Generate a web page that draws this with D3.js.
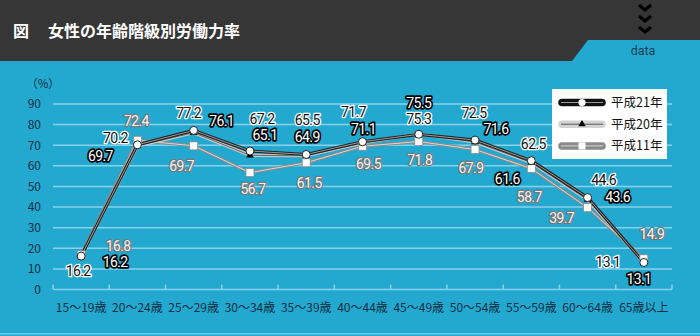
<!DOCTYPE html>
<html><head><meta charset="utf-8">
<script src="https://cdn.jsdelivr.net/npm/d3@7"></script>
<style>html,body{margin:0;padding:0;background:#363636;}svg{display:block;}</style>
</head><body>
<svg id="c" width="700" height="336"></svg>
<script>
const categories = ["15～19歳","20～24歳","25～29歳","30～34歳","35～39歳","40～44歳","45～49歳","50～54歳","55～59歳","60～64歳","65歳以上"];
const seriesNames = ["平成21年","平成20年","平成11年"];
const h21 = [16.2,70.2,77.2,67.2,65.5,71.7,75.3,72.5,62.5,44.6,13.1];
const h20 = [16.2,69.7,76.1,65.1,64.9,71.1,75.5,71.6,61.6,43.6,13.1];
const h11 = [16.8,72.4,69.7,56.7,61.5,69.5,71.8,67.9,58.7,39.7,14.9];
const yTicks = [0,10,20,30,40,50,60,70,80,90];

// label placement offsets (layout only)
const off21 = [[-3,15],[-22,-7],[-5,-17],[12,-32],[1,-35],[-9,-30],[0,-15],[-1,-27],[2,-17],[16,-18],[-36,-1]];
const off20 = [[34,6],[-37,10],[28,-12],[15,-20],[1,-19],[1,-14],[0,-31],[21,-13],[-24,16],[30,-3],[-5,16]];
const off11 = [[37,-9],[-1,-19],[-12,20],[3,16],[3,20],[6,18],[1,18],[-4,18],[-2,28],[-26,10],[8,-25]];

const svg = d3.select("#c");
const FONT = "'Noto Sans CJK JP','Noto Sans',sans-serif";

// header
svg.append("rect").attr("x",0).attr("y",0).attr("width",700).attr("height",336).attr("fill","#363636");
svg.append("rect").attr("x",0).attr("y",61).attr("width",700).attr("height",275).attr("fill","#23a9d0");
svg.append("rect").attr("x",0).attr("y",333).attr("width",700).attr("height",1.5).attr("fill","#6cc6e4");
svg.append("polygon").attr("points","572,61 588,40 700,40 700,61").attr("fill","#23a9d0");
svg.append("text").attr("x",643).attr("y",55).attr("text-anchor","middle")
  .attr("font-family","Roboto,'Noto Sans',sans-serif").attr("font-size",12.5).attr("fill","#163f55").text("data");
[0,11,22].forEach(o=>{
  svg.append("path").attr("d",`M639,${5+o} L645,${10+o} L651,${5+o}`).attr("fill","none")
    .attr("stroke","#000").attr("stroke-width",3.2).attr("stroke-linecap","butt").attr("stroke-linejoin","miter");
});
svg.append("text").attr("x",13).attr("y",37).attr("font-family",FONT).attr("font-weight","bold")
  .attr("font-size",16).attr("fill","#fff").text("図");
svg.append("text").attr("x",48).attr("y",37).attr("font-family",FONT).attr("font-weight","bold")
  .attr("font-size",16).attr("fill","#fff").text("女性の年齢階級別労働力率");

// scales
const x = d3.scaleBand().domain(categories).range([53,672]).padding(0);
const y = d3.scaleLinear().domain([0,90]).range([289.5,104]);
const cx = c => x(c) + x.bandwidth()/2;

// grid
svg.append("g").selectAll("line").data(yTicks.filter(d=>d>0)).join("line")
  .attr("x1",53).attr("x2",672).attr("y1",d=>y(d)).attr("y2",d=>y(d))
  .attr("stroke","#8ad2ea").attr("stroke-width",1.5);

// x axis
const xAxis = d3.axisBottom(x).tickSize(0).tickPadding(0);
const gx = svg.append("g").attr("transform",`translate(0,${y(0)})`).call(xAxis);
gx.select(".domain").remove();
gx.selectAll("text").attr("font-family",FONT).attr("font-size",12).attr("fill","#0e2f44").attr("dy","1.9em");
svg.append("line").attr("x1",53).attr("x2",672).attr("y1",y(0)).attr("y2",y(0)).attr("stroke","#8ad2ea").attr("stroke-width",1.5);
const bounds = categories.map(c=>x(c)).concat([x(categories[categories.length-1])+x.bandwidth()]);
svg.append("g").selectAll("line").data(bounds).join("line")
  .attr("x1",d=>d).attr("x2",d=>d).attr("y1",y(0)).attr("y2",y(0)-5)
  .attr("stroke","#8ad2ea").attr("stroke-width",1.5);

// y axis labels
const yAxis = d3.axisLeft(y).tickValues(yTicks).tickSize(0).tickPadding(12);
const gy = svg.append("g").attr("transform","translate(53,0)").call(yAxis);
gy.select(".domain").remove();
gy.selectAll("text").attr("font-family",FONT).attr("font-size",12).attr("fill","#0e2f44");
svg.append("text").attr("x",43).attr("y",88).attr("text-anchor","middle").attr("font-family",FONT)
  .attr("font-size",11.5).attr("fill","#0e2f44").text("（%）");

// lines
const line = d3.line().x((d,i)=>cx(categories[i])).y(d=>y(d));
function drawLine(data, outer, inner, ow){
  svg.append("path").datum(data).attr("d",line).attr("fill","none").attr("stroke",outer).attr("stroke-width",ow).attr("stroke-linejoin","round");
  svg.append("path").datum(data).attr("d",line).attr("fill","none").attr("stroke",inner).attr("stroke-width",1);
}
drawLine(h11,"#8a8a8a","#d8d8d8",3);
drawLine(h20,"#c8c8c8","#666",3.2);
drawLine(h21,"#222","#9a9a9a",3.2);

// markers
svg.append("g").selectAll("rect").data(h11).join("rect")
  .attr("x",(d,i)=>cx(categories[i])-4).attr("y",d=>y(d)-4).attr("width",8).attr("height",8)
  .attr("fill","#fff").attr("stroke","#888").attr("stroke-width",0.8);
svg.append("g").selectAll("path").data(h20).join("path")
  .attr("transform",(d,i)=>`translate(${cx(categories[i])},${y(d)})`)
  .attr("d",d3.symbol(d3.symbolTriangle,26)).attr("fill","#000");
svg.append("g").selectAll("circle").data(h21).join("circle")
  .attr("cx",(d,i)=>cx(categories[i])).attr("cy",d=>y(d)).attr("r",4)
  .attr("fill","#fff").attr("stroke","#222").attr("stroke-width",1);

// value labels
function labels(data, offs, fill, stroke, sw){
  svg.append("g").selectAll("text").data(data).join("text")
    .attr("x",(d,i)=>cx(categories[i])+offs[i][0]).attr("y",(d,i)=>y(d)+offs[i][1])
    .attr("dy","0.36em").attr("text-anchor","middle")
    .attr("font-family","Roboto,'Noto Sans',sans-serif").attr("font-size",14).attr("letter-spacing",-0.6)
    .attr("fill",fill).attr("stroke",stroke).attr("stroke-width",sw).attr("paint-order","stroke")
    .attr("stroke-linejoin","round").text(d=>d.toFixed(1));
}
labels(h11,off11,"#f4f4f4","#777",2.4);
labels(h21,off21,"#111","#fff",2.6);
labels(h20,off20,"#fff","#000",3.4);

// legend
const lg = svg.append("g");
lg.append("rect").attr("x",552).attr("y",89).attr("width",115).attr("height",70).attr("fill","#fff");
const legendStyles = [
  {outer:"#111", inner:"#999", mk:"circle"},
  {outer:"#d4d4d4", inner:"#555", mk:"tri"},
  {outer:"#8a8a8a", inner:"#d8d8d8", mk:"sq"}
];
seriesNames.forEach((n,i)=>{
  const yy = 102.5 + i*21.7;
  const st = legendStyles[i];
  lg.append("line").attr("x1",562).attr("x2",602).attr("y1",yy).attr("y2",yy)
    .attr("stroke",st.outer).attr("stroke-width",7.5).attr("stroke-linecap","round");
  lg.append("line").attr("x1",561).attr("x2",603).attr("y1",yy).attr("y2",yy)
    .attr("stroke",st.inner).attr("stroke-width",1);
  if(st.mk==="circle") lg.append("circle").attr("cx",582).attr("cy",yy).attr("r",3.6).attr("fill","#fff");
  if(st.mk==="tri") lg.append("path").attr("transform",`translate(582,${yy})`).attr("d",d3.symbol(d3.symbolTriangle,24)).attr("fill","#000");
  if(st.mk==="sq") lg.append("rect").attr("x",578.5).attr("y",yy-3.5).attr("width",7).attr("height",7).attr("fill","#fff");
  lg.append("text").attr("x",611).attr("y",yy).attr("dy","0.36em").attr("font-family",FONT)
    .attr("font-size",12.5).attr("fill","#111").text(n);
});
</script>
</body></html>
